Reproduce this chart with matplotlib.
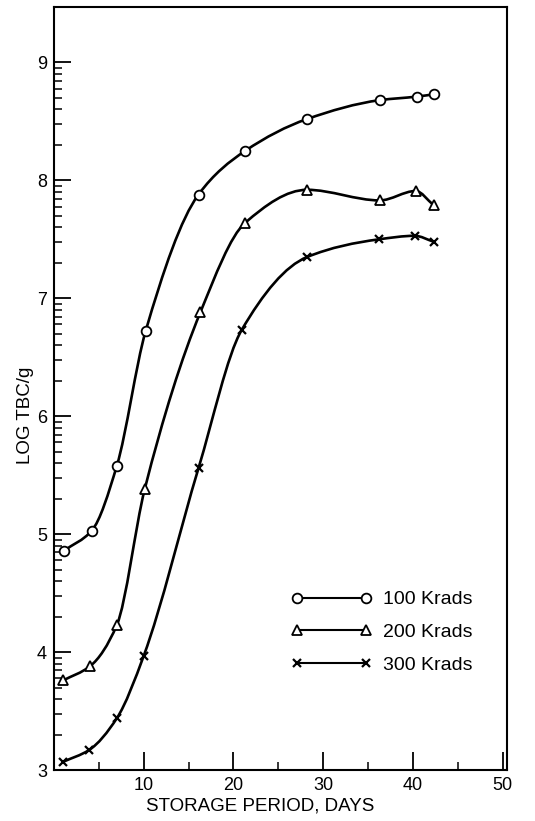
import numpy as np
import matplotlib
matplotlib.use("Agg")
import matplotlib.pyplot as plt
from matplotlib.path import Path
from matplotlib.patches import PathPatch
from matplotlib.lines import Line2D

# Datos
dias_100 = [1.1, 4.2, 7.0, 10.2, 16.1, 21.3, 28.2, 36.3, 40.4, 42.4]
log_100 = [4.86, 5.03, 5.58, 6.72, 7.88, 8.25, 8.52, 8.68, 8.71, 8.73]

dias_200 = [1.0, 4.0, 7.0, 10.1, 16.3, 21.3, 28.2, 36.3, 40.3, 42.3]
log_200 = [3.76, 3.88, 4.23, 5.38, 6.88, 7.64, 7.92, 7.83, 7.91, 7.79]

dias_300 = [1.0, 3.9, 7.0, 10.0, 16.1, 20.9, 28.2, 36.2, 40.2, 42.3]
log_300 = [3.07, 3.17, 3.44, 3.97, 5.56, 6.73, 7.35, 7.50, 7.53, 7.48]

etiquetas = ["100 Krads", "200 Krads", "300 Krads"]
marcadores = ["o", "^", "x"]

plt.rcParams["font.family"] = ["Liberation Sans", "DejaVu Sans"]


def curva_suave(x, y):
    # Hermite cúbica (tangentes monótonas) dibujada como segmentos Bezier
    x = np.asarray(x, float)
    y = np.asarray(y, float)
    h = np.diff(x)
    d = np.diff(y) / h
    m = np.zeros_like(y)
    m[0], m[-1] = d[0], d[-1]
    for i in range(1, len(y) - 1):
        if d[i - 1] * d[i] <= 0:
            m[i] = 0.0
        else:
            w1 = 2 * h[i] + h[i - 1]
            w2 = h[i] + 2 * h[i - 1]
            m[i] = (w1 + w2) / (w1 / d[i - 1] + w2 / d[i])
    verts = [(x[0], y[0])]
    codes = [Path.MOVETO]
    for i in range(len(h)):
        verts += [(x[i] + h[i] / 3, y[i] + m[i] * h[i] / 3),
                  (x[i + 1] - h[i] / 3, y[i + 1] - m[i + 1] * h[i] / 3),
                  (x[i + 1], y[i + 1])]
        codes += [Path.CURVE4] * 3
    return Path(verts, codes)


fig = plt.figure(figsize=(5.35, 8.21), dpi=100)
ax = fig.add_axes([0.101, 0.062, 0.847, 0.9295])

series = [(dias_100, log_100), (dias_200, log_200), (dias_300, log_300)]
for (x, y), m in zip(series, marcadores):
    ax.add_patch(PathPatch(curva_suave(x, y), fill=False, lw=1.9,
                           edgecolor="black", zorder=2))
    if m == "x":
        ax.plot(x, y, ls="none", marker=m, ms=6, mew=1.6, color="black", zorder=3)
    else:
        ax.plot(x, y, ls="none", marker=m, ms=7, mew=1.3, mfc="white",
                color="black", zorder=3)

ax.set_xlim(0, 50.5)
ax.set_ylim(3, 9.47)

# Ticks
ax.set_xticks([10, 20, 30, 40, 50])
ax.set_xticks([5, 15, 25, 35, 45], minor=True)
ax.set_yticks(range(3, 10))
menores = [n + np.log10(k) for n in range(3, 9) for k in range(2, 10)]
ax.set_yticks(menores, minor=True)
ax.tick_params(which="major", direction="in", length=12, width=1.3,
               labelsize=13, pad=5)
ax.tick_params(which="minor", direction="in", length=6, width=1.1)
ax.tick_params(axis="x", which="major", length=13)
for s in ax.spines.values():
    s.set_linewidth(1.5)

ax.set_xlabel("STORAGE PERIOD, DAYS", fontsize=13.5)
ax.xaxis.set_label_coords(0.455, -0.036)
ax.set_ylabel("LOG TBC/g", fontsize=13.5)
ax.yaxis.set_label_coords(-0.045, 0.465)

handles = []
for m in marcadores:
    if m == "x":
        handles.append(Line2D([], [], color="black", lw=1.5, marker=m, ms=6, mew=1.6))
    else:
        handles.append(Line2D([], [], color="black", lw=1.5, marker=m, ms=7,
                              mew=1.3, mfc="white"))
ax.legend(handles, etiquetas, numpoints=2, handlelength=4.15, frameon=False,
          fontsize=14, loc="upper left", bbox_to_anchor=(0.485, 0.258),
          labelspacing=0.78, handletextpad=0.55)

fig.savefig("out.png", dpi=100)
